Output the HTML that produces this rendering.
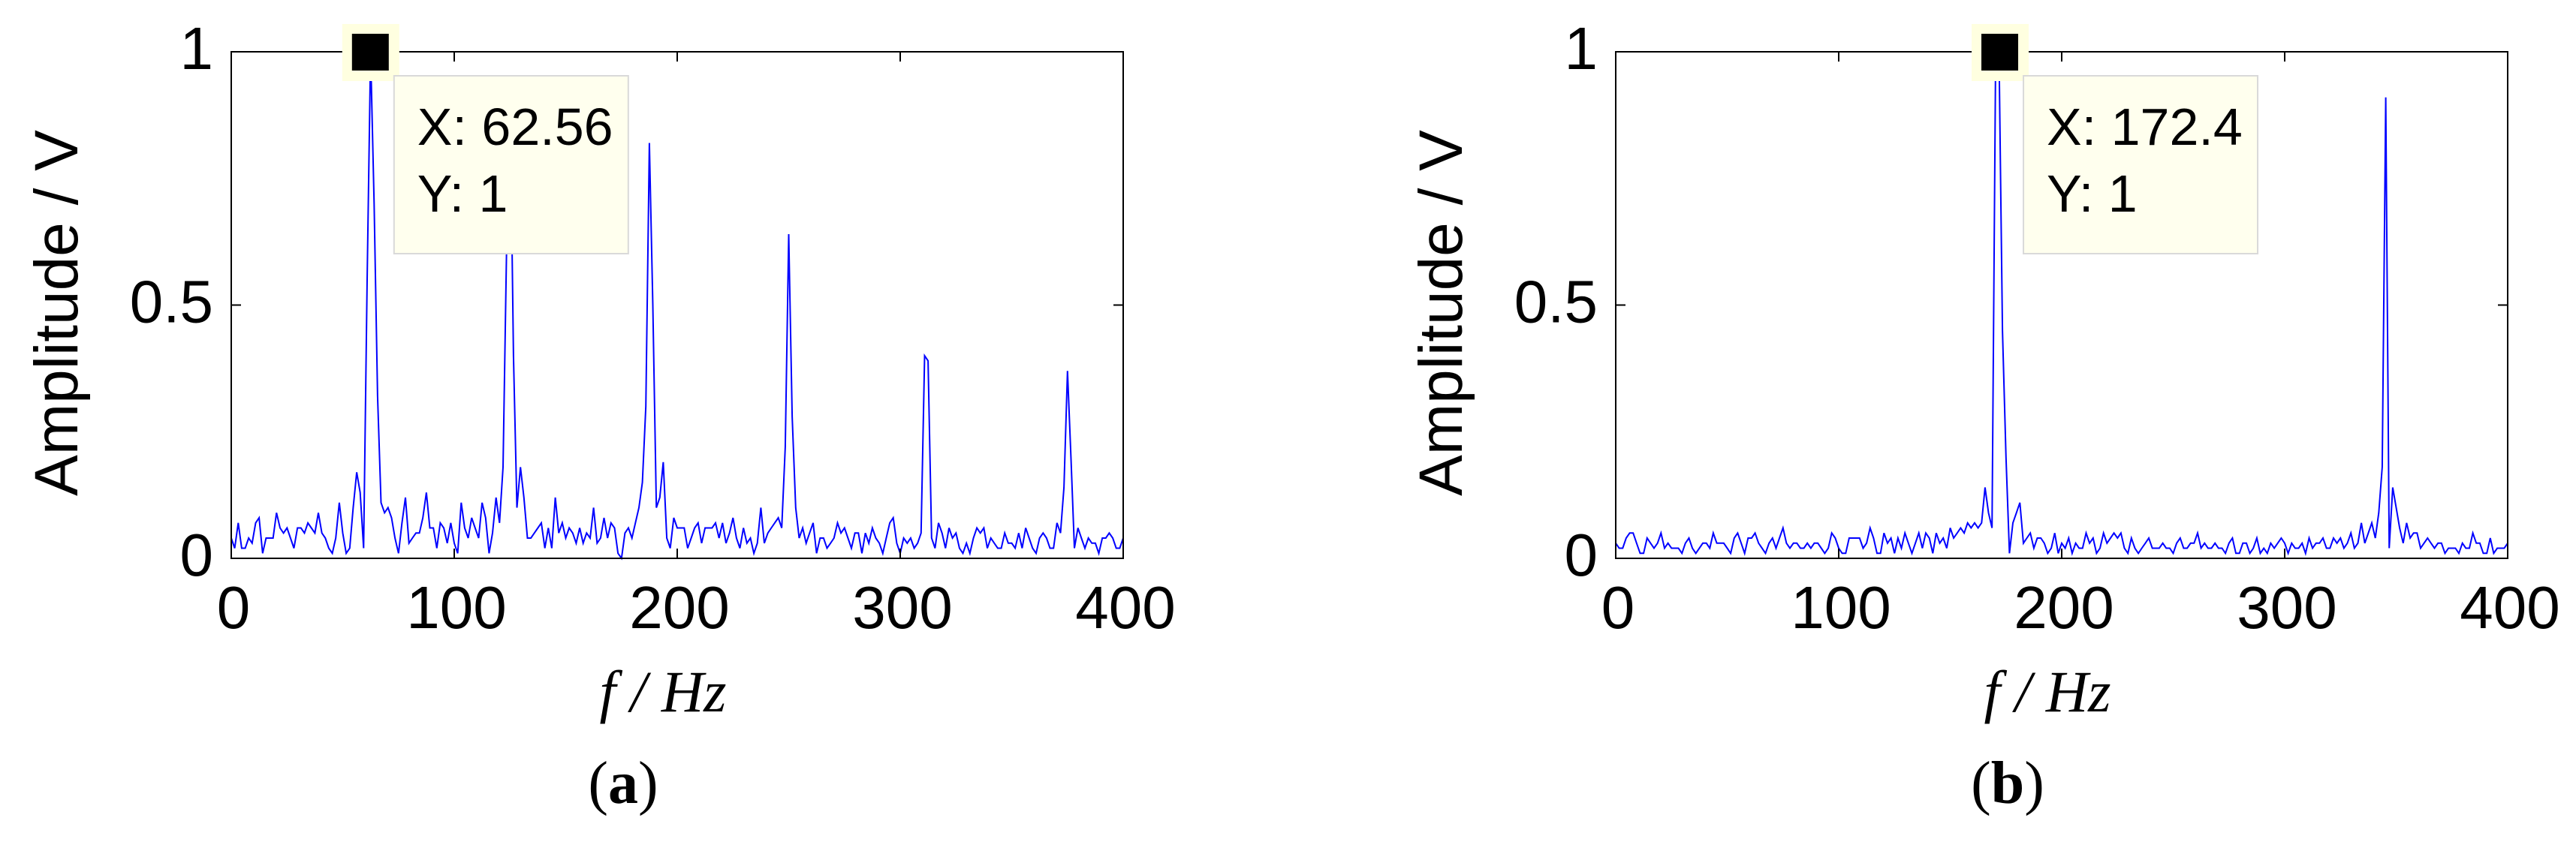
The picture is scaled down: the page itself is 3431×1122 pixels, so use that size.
<!DOCTYPE html>
<html><head><meta charset="utf-8"><style>
html,body{margin:0;padding:0;background:#fff;}
svg{display:block;}
</style></head><body>
<svg id="fig" width="3431" height="1122" viewBox="0 0 3431 1122" xmlns="http://www.w3.org/2000/svg"></svg>
<script>
const xTicks = [0, 100, 200, 300, 400];
const yTicks = [0, 0.5, 1];
const yTickLabels = ["0", "0.5", "1"];
const df = 1.5625;
const seriesA = [
.04,.02,.07,.02,.02,.04,.03,.07,.08,.01,
.04,.04,.04,.09,.06,.05,.06,.04,.02,.06,
.06,.05,.07,.06,.05,.09,.05,.04,.02,.01,
.04,.11,.05,.01,.02,.10,.17,.13,.02,.55,
1.0,.70,.32,.11,.09,.10,.08,.04,.01,.07,
.12,.03,.04,.05,.05,.08,.13,.06,.06,.02,
.07,.06,.03,.07,.03,.01,.11,.06,.04,.08,
.06,.04,.11,.08,.01,.05,.12,.07,.18,.60,
.92,.40,.10,.18,.12,.04,.04,.05,.06,.07,
.02,.06,.02,.12,.05,.07,.04,.06,.05,.03,
.06,.03,.05,.04,.10,.03,.04,.08,.04,.07,
.06,.01,.00,.05,.06,.04,.07,.10,.15,.30,
.82,.50,.10,.12,.19,.04,.02,.08,.06,.06,
.06,.02,.04,.06,.07,.03,.06,.06,.06,.07,
.04,.07,.03,.05,.08,.04,.02,.06,.03,.04,
.01,.03,.10,.03,.05,.06,.07,.08,.06,.22,
.64,.28,.10,.04,.06,.03,.05,.07,.01,.04,
.04,.02,.03,.04,.07,.05,.06,.04,.02,.05,
.05,.01,.05,.03,.06,.04,.03,.01,.04,.07,
.08,.03,.01,.04,.03,.04,.02,.03,.05,.40,
.39,.04,.02,.07,.05,.02,.06,.04,.05,.02,
.01,.03,.01,.04,.06,.05,.06,.02,.04,.03,
.02,.02,.05,.03,.03,.02,.05,.02,.06,.04,
.02,.01,.04,.05,.04,.02,.02,.07,.05,.14,
.37,.20,.02,.06,.04,.02,.04,.03,.03,.01,
.04,.04,.05,.04,.02,.02,.04
];
const seriesB = [
.03,.02,.02,.04,.05,.05,.03,.01,.01,.04,
.03,.02,.03,.05,.02,.03,.02,.02,.02,.01,
.03,.04,.02,.01,.02,.03,.03,.02,.05,.03,
.03,.03,.02,.01,.04,.05,.03,.01,.04,.04,
.05,.03,.02,.01,.03,.04,.02,.04,.06,.03,
.02,.03,.03,.02,.02,.03,.02,.03,.03,.02,
.01,.02,.05,.04,.02,.01,.01,.04,.04,.04,
.04,.02,.03,.06,.04,.01,.01,.05,.03,.04,
.01,.04,.02,.05,.03,.01,.03,.05,.02,.05,
.04,.01,.05,.03,.04,.02,.06,.04,.05,.06,
.05,.07,.06,.07,.06,.07,.14,.09,.06,.95,
1.0,.45,.20,.01,.07,.09,.11,.03,.04,.05,
.02,.04,.04,.03,.01,.02,.05,.01,.03,.02,
.04,.01,.03,.02,.02,.05,.03,.04,.01,.02,
.05,.03,.04,.05,.04,.05,.02,.01,.04,.02,
.01,.02,.03,.04,.02,.02,.02,.03,.02,.02,
.01,.03,.04,.02,.02,.03,.03,.05,.02,.03,
.02,.02,.03,.02,.02,.01,.03,.04,.01,.01,
.03,.03,.01,.02,.04,.01,.02,.01,.03,.02,
.03,.04,.03,.01,.03,.02,.02,.03,.01,.04,
.02,.03,.03,.04,.02,.02,.04,.03,.04,.02,
.03,.05,.02,.03,.07,.03,.05,.07,.04,.09,
.18,.91,.02,.14,.10,.06,.03,.07,.04,.05,
.05,.02,.03,.04,.03,.02,.03,.03,.01,.02,
.02,.02,.01,.03,.02,.02,.05,.03,.03,.01,
.01,.04,.01,.02,.02,.02,.03
];
const tipA = {x: 62.56, y: 1, label: "X: 62.56"};
const tipB = {x: 172.4, y: 1, label: "X: 172.4"};

const NS = "http://www.w3.org/2000/svg";
const svg = document.getElementById('fig');
function mk(tag, attrs, parent, text) {
  const e = document.createElementNS(NS, tag);
  for (const k in attrs) e.setAttribute(k, attrs[k]);
  if (text !== undefined) e.textContent = text;
  (parent || svg).appendChild(e);
  return e;
}

function panel(offset, series, tip, letter) {
  const L = 308 + offset, R = 1496 + offset, T = 69, B = 744;
  const xs = v => L + (v - 0) / 400 * (R - L);
  const ys = v => B - v * (B - T);
  const g = mk('g', {});
  
  

  let d = '';
  series.forEach((v, i) => { d += (i ? 'L' : 'M') + xs(i * df).toFixed(1) + ' ' + ys(v).toFixed(1); });
  const ln = mk('path', {d: d, fill: 'none', stroke: '#0000ff', 'stroke-width': 2}, g);
  
  

  const box = mk('rect', {x: L, y: T, width: R - L, height: B - T, fill: 'none', stroke: '#000', 'stroke-width': 2}, g);
  
  

  xTicks.forEach(t => {
    const x = xs(t);
    mk('line', {x1: x, y1: B, x2: x, y2: B - 13, stroke: '#000', 'stroke-width': 2}, g);
    mk('line', {x1: x, y1: T, x2: x, y2: T + 13, stroke: '#000', 'stroke-width': 2}, g);
    const tl = mk('text', {x: x + 3, y: 837, 'text-anchor': 'middle', 'font-family': 'Liberation Sans, sans-serif', 'font-size': 80, fill: '#000'}, g, String(t));
    
    
  });
  yTicks.forEach((t, i) => {
    const y = ys(t);
    mk('line', {x1: L, y1: y, x2: L + 13, y2: y, stroke: '#000', 'stroke-width': 2}, g);
    mk('line', {x1: R, y1: y, x2: R - 13, y2: y, stroke: '#000', 'stroke-width': 2}, g);
    const tl = mk('text', {x: L - 24, y: y + 23, 'text-anchor': 'end', 'font-family': 'Liberation Sans, sans-serif', 'font-size': 80, fill: '#000'}, g, yTickLabels[i]);
    
    
  });

  const yl = mk('text', {x: 0, y: 0, transform: 'translate(' + (103 + offset) + ',417) rotate(-90)', 'text-anchor': 'middle', 'font-family': 'Liberation Sans, sans-serif', 'font-size': 82, fill: '#000'}, g, 'Amplitude / V');
  
  

  const xl = mk('text', {x: 883 + offset, y: 948, 'text-anchor': 'middle', 'font-family': 'Liberation Serif, serif', 'font-size': 78, 'font-style': 'italic', fill: '#000'}, g, 'f / Hz');
  
  

  const cap = mk('text', {x: 830 + offset, y: 1070, 'text-anchor': 'middle', 'font-family': 'Liberation Serif, serif', 'font-size': 80, fill: '#000'}, g);
  
  
  mk('tspan', {}, cap, '(');
  mk('tspan', {'font-weight': 'bold'}, cap, letter);
  mk('tspan', {}, cap, ')');

  const mx = xs(tip.x), my = ys(tip.y);
  const mg = mk('g', {}, g);
  
  
  mk('rect', {x: mx - 38, y: my - 37, width: 76, height: 76, fill: '#ffffe0'}, mg);
  mk('rect', {x: mx - 25, y: my - 24, width: 49, height: 49, fill: '#000'}, mg);

  const bx = mx + 31, by = 101;
  const tg = mk('g', {}, g);
  
  
  mk('rect', {x: bx, y: by, width: 312, height: 237, fill: '#ffffee', stroke: '#d9d9d9', 'stroke-width': 2}, tg);
  const t1 = mk('text', {x: bx + 31, y: 193, 'font-family': 'Liberation Sans, sans-serif', 'font-size': 70, fill: '#000'}, tg, tip.label);
  
  
  const t2 = mk('text', {x: bx + 31, y: 282, 'font-family': 'Liberation Sans, sans-serif', 'font-size': 70, fill: '#000'}, tg, 'Y: ' + tip.y);
  
  
}

panel(0, seriesA, tipA, 'a');
panel(1844, seriesB, tipB, 'b');
</script>
</body></html>
